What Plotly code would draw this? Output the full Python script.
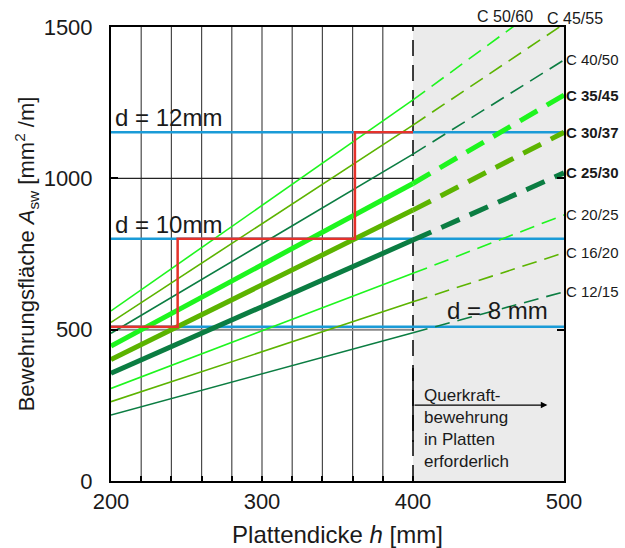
import numpy as np
import plotly.graph_objects as go

# ---------------- data ----------------
h_points = [200, 400, 500]          # slab thickness h [mm] at which values were read
classes = ["C 12/15", "C 16/20", "C 20/25", "C 25/30", "C 30/37",
           "C 35/45", "C 40/50", "C 45/55", "C 50/60"]
asw_200 = [218, 262, 306, 356, 401, 446, 488, 524, 562]
asw_400 = [490, 592, 686, 796, 895, 983, 1080, 1176, 1259]
asw_500 = [625, 754, 879, 1018, 1152, 1275, 1391, 1510, 1624]

bar_labels = ["d = 8 mm", "d = 10mm", "d = 12mm"]
bar_asw = [510, 800, 1152]

x_ticks = [200, 220, 240, 260, 280, 300, 320, 340, 360, 380, 400, 500]
x_ticktext = ["200", "", "", "", "", "300", "", "", "", "", "400", "500"]
y_ticks = [0, 500, 1000, 1500]
grid_x = [220, 240, 260, 280, 300, 320, 340, 360, 380]

# ---------------- styles ----------------
DARK = "#0b7d42"
OLIVE = "#5cb400"
LIGHT = "#1ef51e"
BLUE = "#1a9bd7"
RED = "#e5322b"
TXT = "#1a1a1a"
colors = [DARK, OLIVE, LIGHT] * 3
thick = [False, False, False, True, True, True, False, False, False]
bold = thick

fig = go.Figure()

# blue bar-diameter lines
for v in bar_asw:
    fig.add_trace(go.Scatter(x=[200, 500], y=[v, v], mode="lines",
                             line=dict(color=BLUE, width=2.5), hoverinfo="skip"))

# concrete-class lines: solid up to 400, dashed beyond
for i, c in enumerate(classes):
    w = 5 if thick[i] else 1.6
    fig.add_trace(go.Scatter(x=h_points[:2], y=[asw_200[i], asw_400[i]], mode="lines",
                             line=dict(color=colors[i], width=w), name=c))
    fig.add_trace(go.Scatter(x=h_points[1:], y=[asw_400[i], asw_500[i]], mode="lines",
                             line=dict(color=colors[i], width=w,
                                       dash="20px,11px" if thick[i] else "15px,8px"),
                             name=c, showlegend=False))

# red step line following C 30/37
k = classes.index("C 30/37")
def cross(v):
    return float(np.interp(v, [asw_200[k], asw_400[k]], h_points[:2]))
h1, h2 = cross(bar_asw[0]), cross(bar_asw[1])
fig.add_trace(go.Scatter(x=[200, h1, h1, h2, h2, 400],
                         y=[bar_asw[0], bar_asw[0], bar_asw[1], bar_asw[1], bar_asw[2], bar_asw[2]],
                         mode="lines", line=dict(color=RED, width=2.5), hoverinfo="skip"))

# arrow
fig.add_annotation(x=489, y=251, ax=400, ay=251, xref="x", yref="y", axref="x", ayref="y",
                   text="", showarrow=True, arrowhead=2, arrowsize=1.1, arrowwidth=1.2,
                   arrowcolor="black")

shapes = []
shapes.append(dict(type="rect", xref="x", yref="y", x0=400, x1=500, y0=0, y1=1500,
                   fillcolor="#ebebeb", line=dict(width=0), layer="below"))
for gx in grid_x:
    shapes.append(dict(type="line", xref="x", yref="y", x0=gx, x1=gx, y0=0, y1=1500,
                       line=dict(color="#4a4a4a", width=1.2), layer="below"))
shapes.append(dict(type="line", xref="x", yref="y", x0=200, x1=400, y0=1000, y1=1000,
                   line=dict(color="#222", width=1.2), layer="below"))
shapes.append(dict(type="line", xref="x", yref="y", x0=200, x1=400, y0=500, y1=500,
                   line=dict(color="#888", width=2), layer="below"))
shapes.append(dict(type="line", xref="x", yref="y", x0=400, x1=400, y0=0, y1=1500,
                   line=dict(color="black", width=1.5, dash="16px,9px"), layer="below"))
shapes.append(dict(type="line", xref="x", yref="y", x0=400, x1=400, y0=129, y1=373,
                   line=dict(color="black", width=1.5), layer="below"))

# labels
for i, c in enumerate(classes[:7]):
    fig.add_annotation(x=500, y=asw_500[i], xref="x", yref="y", text=f"<b>{c}</b>" if bold[i] else c,
                       showarrow=False, xanchor="left", yanchor="middle", xshift=0,
                       font=dict(size=15, color=TXT))
fig.add_annotation(x=461, y=1500, xref="x", yref="y", text=classes[8], showarrow=False,
                   xanchor="center", yanchor="bottom", yshift=0, font=dict(size=16, color=TXT))
fig.add_annotation(x=500, y=1500, xref="x", yref="y", text=classes[7], showarrow=False,
                   xanchor="center", yanchor="bottom", xshift=11, yshift=-2,
                   font=dict(size=16, color=TXT))

fig.add_annotation(x=201, y=1202, xref="x", yref="y", text=bar_labels[2], showarrow=False,
                   xanchor="left", yanchor="middle", font=dict(size=24, color=TXT))
fig.add_annotation(x=201, y=849, xref="x", yref="y", text=bar_labels[1], showarrow=False,
                   xanchor="left", yanchor="middle", font=dict(size=24, color=TXT))
fig.add_annotation(x=421, y=562, xref="x", yref="y", text=bar_labels[0], showarrow=False,
                   xanchor="left", yanchor="middle", font=dict(size=24, color=TXT))

fig.add_annotation(x=406, y=172, xref="x", yref="y",
                   text="Querkraft-<br>bewehrung<br>in Platten<br>erforderlich",
                   showarrow=False, xanchor="left", yanchor="middle", align="left",
                   font=dict(size=17, color=TXT))

fig.update_layout(
    width=625, height=548,
    margin=dict(l=111, r=61, t=27, b=67, autoexpand=False),
    plot_bgcolor="white", paper_bgcolor="white",
    showlegend=False,
    font=dict(family="Liberation Sans, Arial, sans-serif", size=22, color=TXT),
    shapes=shapes,
    xaxis=dict(range=[200, 500], tickvals=x_ticks, ticktext=x_ticktext,
               ticks="inside", ticklen=5, tickwidth=1.5, tickcolor="black",
               showline=True, linewidth=2, linecolor="black", mirror=True,
               showgrid=False, zeroline=False, automargin=False,
               title=dict(text="Plattendicke <i>h</i> [mm]", font=dict(size=24))),
    yaxis=dict(range=[0, 1500], tickvals=y_ticks,
               ticks="inside", ticklen=7, tickwidth=1.5, tickcolor="black",
               showline=True, linewidth=2, linecolor="black", mirror="ticks",
               showgrid=False, zeroline=False, ticklabelstandoff=12, automargin=False,
               title=dict(text="Bewehrungsfläche <i>A</i><sub>sw</sub> [mm<sup>2</sup> /m]",
                          font=dict(size=22), standoff=3)),
)

fig.write_html("out.html", post_script="document.body.style.margin='0';",
               config={"displayModeBar": False})
